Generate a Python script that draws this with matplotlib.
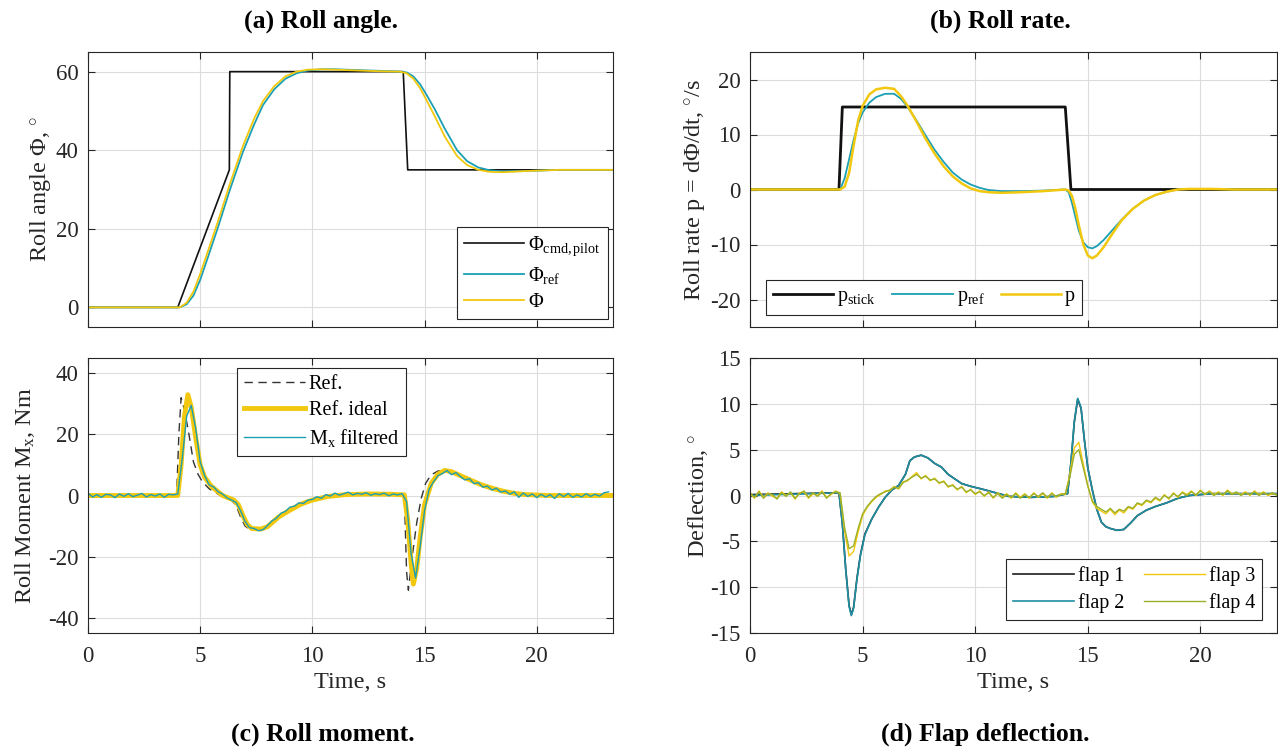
import numpy as np
import matplotlib

matplotlib.use("Agg")
import matplotlib.pyplot as plt

plt.rcParams["font.family"] = ["Liberation Serif", "DejaVu Serif"]
plt.rcParams["mathtext.fontset"] = "custom"
plt.rcParams["mathtext.rm"] = "Liberation Serif"
plt.rcParams["mathtext.it"] = "Liberation Serif:italic"
plt.rcParams["mathtext.bf"] = "Liberation Serif:bold"
plt.rcParams["axes.unicode_minus"] = False

BLACK = "#111111"
TEAL = "#1a9fb4"
YELLOW = "#f2c80f"
OLIVE = "#9bb02a"
TXT = "#262626"

# (a) roll angle, deg
phi_cmd_t = [0, 4.0, 6.3, 6.32, 14.05, 14.25, 23.4]
phi_cmd = [0, 0, 35, 60, 60, 35, 35]
phi_t = [0, 4.1, 4.4, 4.7, 5.0, 5.3, 5.8, 6.3, 6.9, 7.4, 7.8, 8.3, 8.8, 9.3, 9.8,
         10.4, 11, 12, 13, 13.9, 14.2, 14.5, 14.8, 15.1, 15.45, 15.9, 16.45, 16.9,
         17.4, 17.9, 18.5, 19.5, 21, 23.4]
phi_ref = [0, 0, 0.8, 3, 7, 12, 20.5, 29.5, 39.5, 46.5, 51.5, 55.5, 58.2, 59.6, 60.3,
           60.6, 60.6, 60.4, 60.2, 60, 59.8, 58.8, 56.8, 54, 50.5, 45.5, 40, 37.2,
           35.6, 34.9, 34.6, 34.7, 35, 35]
phi = [0, 0, 1.2, 4, 8.5, 13.5, 22, 31, 41, 48, 52.5, 56.3, 58.8, 60, 60.5,
       60.6, 60.5, 60.3, 60.1, 60, 59.6, 58.2, 55.8, 52.6, 48.7, 43.5, 38.5, 36.2,
       35, 34.5, 34.4, 34.7, 35, 35]

# (b) roll rate, deg/s
p_stick_t = [0, 3.95, 4.1, 14.0, 14.25, 23.4]
p_stick = [0, 0, 15, 15, 0, 0]
p_t = [0, 4.0, 4.2, 4.4, 4.6, 4.8, 5.0, 5.3, 5.6, 6.0, 6.4, 6.7, 7.0, 7.4, 7.8, 8.2,
       8.6, 9.0, 9.4, 9.8, 10.2, 10.6, 11.2, 12, 13, 14.0, 14.15, 14.3, 14.45, 14.6,
       14.8, 15.0, 15.2, 15.4, 15.7, 16.0, 16.5, 17.0, 17.5, 18.0, 18.5, 19.0, 19.5,
       20.5, 21.5, 23.4]
p_ref = [0, 0, 2, 5.5, 9, 12, 14, 15.8, 16.8, 17.4, 17.4, 16.5, 15, 12.5, 9.8, 7.2,
         5, 3.1, 1.8, 0.9, 0.3, -0.1, -0.3, -0.3, -0.2, 0, -0.5, -2.5, -5, -7.5,
         -9.6, -10.5, -10.7, -10.3, -9.2, -7.8, -5.5, -3.5, -2, -1, -0.4, 0, 0.1,
         0.1, 0, 0]
p_meas = [0, 0, 0.5, 3, 8, 12.5, 15.2, 17.3, 18.2, 18.5, 18.3, 17, 15.2, 12.3, 9.2, 6.5,
          4.2, 2.4, 1.1, 0.2, -0.3, -0.5, -0.6, -0.5, -0.3, 0, -0.2, -1.2, -3.5, -6.5,
          -10, -12, -12.5, -12, -10.5, -8.6, -5.6, -3.5, -2, -1, -0.4, 0, 0.1,
          0.1, 0, 0]

# (c) roll moment, Nm
ref_ideal_t = [0, 4.0, 4.15, 4.3, 4.45, 4.6, 4.8, 5.0, 5.2, 5.5, 6.0, 6.5, 6.7, 6.9,
               7.1, 7.3, 7.7, 8.0, 8.5, 9.0, 9.5, 10.0, 10.7, 11.5, 12.5, 13.5, 14.1,
               14.25, 14.4, 14.5, 14.65, 14.8, 15.0, 15.3, 15.6, 15.9, 16.2, 16.6, 17.0,
               17.5, 18.0, 18.5, 19.0, 19.5, 20.5, 23.4]
ref_ideal = [0, 0, 10, 26, 33, 29, 19, 10, 6, 3, 0, -1.5, -3, -6.5,
             -9.5, -10.8, -11, -10.2, -7, -4.8, -2.8, -1.5, -0.3, 0.3, 0.5, 0.4, 0.2,
             -8, -22, -29, -24, -14, -3, 4, 7, 8.2, 7.8, 6.5, 5.2,
             3.6, 2.4, 1.4, 0.7, 0.3, 0, 0]
ref_t = [0, 3.95, 4.05, 4.15, 4.3, 4.5, 4.7, 4.9, 5.1, 5.4, 5.9, 6.4, 6.6, 6.8, 7.0,
         7.2, 7.6, 8.0, 8.5, 9.0, 9.5, 10.0, 10.7, 11.5, 12.5, 13.5, 14.1, 14.2, 14.28,
         14.45, 14.65, 14.85, 15.05, 15.3, 15.6, 15.9, 16.2, 16.6, 17.0, 17.5, 18.0,
         18.5, 19.0, 19.5, 20.5, 23.4]
ref = [0, 0, 20, 32, 28, 20, 11, 7, 4.5, 2.2, 0, -1.6, -3.2, -7, -10,
       -11, -11, -9.8, -6.8, -4.6, -2.7, -1.4, -0.2, 0.3, 0.5, 0.4, 0, -25, -31,
       -20, -9, -1, 4, 6.8, 8, 8.2, 7.6, 6.4, 5, 3.5, 2.3,
       1.3, 0.6, 0.2, 0, 0]
# filtered measurement, sampled every 0.2 s from t = 0
mx_filt = [0.8, -0.5, 0.3, -0.6, 0.4, 0.2, -0.7, 0.5, -0.3, 0.6,
           -0.4, 0.1, 0.7, -0.5, 0.3, -0.2, 0.5, -0.6, 0.4, 0.2,
           0.5, 12, 26, 29.5, 22, 11, 6.5, 3.5, 2.8, 1.2,
           0.5, -0.8, -1.5, -2.3, -5, -8.5, -10.5, -10.8, -11.5, -11.2,
           -9.8, -8.3, -7.4, -5.8, -5.2, -3.8, -3.5, -2.4, -2.6, -1.5,
           -1.3, -0.4, -0.9, 0.3, -0.2, 0.8, 0.1, 0.6, 1.1, 0.2,
           0.7, 0.4, 0.9, 0.1, 0.6, 0.3, 0.8, -0.1, 0.5, 0.2,
           0.6, -2, -19, -27, -17, -5, 2, 4.5, 6.5, 7.2,
           8.2, 6.8, 7.5, 6.2, 5.1, 5.5, 3.9, 4.2, 2.7, 3.1,
           1.8, 2.4, 1.1, 1.5, 0.4, 1.2, -0.6, 0.8, -0.3, 0.5,
           -0.7, 0.4, -0.5, 0.3, -1.0, 0.6, -0.4, 0.7, -0.6, 0.2,
           -0.5, 0.6, -0.3, 0.4, -0.2, 0.9, 1.2]

# (d) flap deflection, deg
flap_t = [0, 3.95, 4.1, 4.25, 4.4, 4.5, 4.6, 4.75, 4.9, 5.1, 5.4, 5.7, 6.0, 6.3, 6.6,
          6.9, 7.1, 7.3, 7.6, 7.9, 8.2, 8.5, 8.8, 9.1, 9.4, 9.8, 10.3, 10.9, 11.5,
          12.5, 13.5, 14.1, 14.25, 14.4, 14.55, 14.7, 14.85, 15.0, 15.2, 15.4, 15.6,
          15.8, 16.0, 16.3, 16.6, 16.9, 17.2, 17.6, 18.0, 18.5, 19.0, 19.5, 20.5, 23.4]
flap1 = [0.1, 0.3, -3, -8, -12, -13, -12.2, -9, -6.5, -4.2, -2.6, -1.3, -0.2, 0.6, 1.1,
         2.3, 3.8, 4.2, 4.4, 4.1, 3.5, 3.1, 2.3, 1.8, 1.3, 1.0, 0.7, 0.3, -0.1,
         -0.2, -0.1, 0.2, 3.5, 8, 10.5, 9.5, 6, 3, 0.6, -1.5, -2.9,
         -3.4, -3.6, -3.8, -3.7, -3.0, -2.2, -1.6, -1.2, -0.8, -0.3, 0, 0.2, 0.2]
flap2 = [0.0, 0.3, -3.1, -8.1, -12.1, -13.1, -12.3, -9.1, -6.6, -4.3, -2.6, -1.3, -0.2, 0.6, 1.1,
         2.3, 3.8, 4.2, 4.4, 4.1, 3.5, 3.1, 2.3, 1.8, 1.3, 1.0, 0.7, 0.3, -0.1,
         -0.2, -0.1, 0.2, 3.6, 8.1, 10.6, 9.6, 6, 3, 0.6, -1.5, -2.9,
         -3.4, -3.6, -3.8, -3.7, -3.0, -2.2, -1.6, -1.2, -0.8, -0.3, 0, 0.2, 0.2]
# flaps 3 and 4, sampled every 0.2 s from t = 0
flap3 = [0.2, -0.3, 0.5, -0.2, 0.3, -0.1, -0.3, 0.4, 0.0, 0.3,
         -0.4, 0.3, 0.4, -0.3, 0.2, 0.0, 0.5, -0.2, 0.1, 0.5,
         0.2, -3.9, -6.6, -6.1, -4.0, -2.2, -1.3, -0.7, -0.2, 0.1,
         0.5, 0.5, 1.0, 0.7, 1.5, 1.6, 2.1, 2.5, 1.8, 2.2,
         1.6, 1.9, 1.3, 1.6, 0.9, 1.2, 0.6, 1.0, 0.3, 0.7,
         0.1, 0.5, -0.1, 0.4, -0.3, 0.3, -0.2, 0.2, -0.3, 0.3,
         -0.2, 0.2, -0.3, 0.3, -0.2, 0.2, -0.3, 0.3, -0.2, 0.2,
         0.1, 2.3, 5.2, 5.8, 3.4, 1.1, -0.7, -1.4, -1.7, -2.0,
         -1.5, -2.1, -1.6, -1.9, -1.3, -1.5, -0.9, -1.1, -0.6, -0.8,
         -0.3, -0.6, 0.1, -0.4, 0.3, -0.2, 0.4, 0.1, 0.5, 0.0,
         0.6, 0.1, 0.5, 0.1, 0.4, 0.0, 0.6, 0.2, 0.3, 0.1,
         0.4, 0.0, 0.5, 0.1, 0.4, 0.0, 0.2, 0.1]
flap4 = [0.3, -0.2, 0.4, -0.3, 0.2, 0.1, -0.4, 0.3, -0.1, 0.4,
         -0.3, 0.2, 0.5, -0.2, 0.3, -0.1, 0.4, -0.3, 0.2, 0.4,
         0.3, -3.5, -5.8, -5.5, -3.6, -2.0, -1.2, -0.6, -0.1, 0.2,
         0.4, 0.6, 0.9, 0.8, 1.4, 1.7, 2.0, 2.3, 1.9, 2.1,
         1.7, 1.8, 1.4, 1.5, 1.0, 1.1, 0.7, 0.9, 0.4, 0.6,
         0.2, 0.4, 0.0, 0.3, -0.2, 0.2, -0.3, 0.1, -0.2, 0.2,
         -0.3, 0.1, -0.2, 0.2, -0.1, 0.3, -0.2, 0.2, -0.1, 0.1,
         0.2, 2.0, 4.5, 5.0, 3.0, 1.0, -0.6, -1.2, -1.5, -1.8,
         -1.4, -1.9, -1.5, -1.7, -1.2, -1.4, -0.8, -1.0, -0.5, -0.7,
         -0.2, -0.5, 0.0, -0.3, 0.2, -0.1, 0.3, 0.0, 0.4, 0.1,
         0.5, 0.2, 0.4, 0.0, 0.3, 0.1, 0.5, 0.1, 0.4, 0.0,
         0.3, 0.1, 0.4, 0.0, 0.3, 0.1, 0.3, 0.0]

DT = 0.2
T_END = 23.4
TICK_FS = 16.5
LABEL_FS = 17.5


def sample_times(vals):
    return np.arange(len(vals)) * DT


def style_axes(ax, ylim, yticks, show_x):
    ax.set_xlim(0, T_END)
    ax.set_ylim(*ylim)
    ax.set_yticks(yticks)
    ax.set_xticks([0, 5, 10, 15, 20])
    if not show_x:
        ax.set_xticklabels([])
    ax.grid(True, color="#dcdcdc", linewidth=0.8)
    ax.set_axisbelow(True)
    ax.tick_params(direction="in", top=True, right=True, length=5, width=0.8,
                   labelsize=TICK_FS, colors=TXT)
    ax.tick_params(axis="y", pad=7)
    ax.tick_params(axis="x", pad=9)
    for s in ax.spines.values():
        s.set_color(TXT)
        s.set_linewidth(0.8)


def legend(ax, **kw):
    leg = ax.legend(fontsize=14.5, fancybox=False, framealpha=1, edgecolor=TXT,
                    handlelength=3.0, borderaxespad=0, borderpad=0.35,
                    handletextpad=0.2, labelspacing=0.35, **kw)
    leg.get_frame().set_linewidth(0.8)
    return leg


fig = plt.figure(figsize=(12.78, 7.49), dpi=100)
W, H = 1278, 749


def add_ax(x0, x1, y0, y1):
    return fig.add_axes([x0 / W, 1 - y1 / H, (x1 - x0) / W, (y1 - y0) / H])


ax_a = add_ax(88, 613, 52, 327)
ax_b = add_ax(750, 1277, 52, 327)
ax_c = add_ax(88, 613, 358, 633)
ax_d = add_ax(750, 1277, 358, 633)

# (a)
ax_a.plot(phi_cmd_t, phi_cmd, color=BLACK, lw=1.2, label=r"$\Phi_{\mathrm{cmd,pilot}}$")
ax_a.plot(phi_t, phi_ref, color=TEAL, lw=1.3, label=r"$\Phi_{\mathrm{ref}}$")
ax_a.plot(phi_t, phi, color=YELLOW, lw=1.3, label=r"$\Phi$")
style_axes(ax_a, (-5, 65), [0, 20, 40, 60], False)
ax_a.set_ylabel(r"Roll angle $\Phi$, $^{\circ}$", fontsize=LABEL_FS, color=TXT, labelpad=2)
legend(ax_a, loc="lower right", bbox_to_anchor=(0.99, 0.029))

# (b)
ax_b.plot(p_stick_t, p_stick, color=BLACK, lw=2.0, label=r"p$_{\mathrm{stick}}$")
ax_b.plot(p_t, p_ref, color=TEAL, lw=1.3, label=r"p$_{\mathrm{ref}}$")
ax_b.plot(p_t, p_meas, color=YELLOW, lw=1.8, label="p")
style_axes(ax_b, (-25, 25), [-20, -10, 0, 10, 20], False)
ax_b.set_ylabel(r"Roll rate p = d$\Phi$/dt, $^{\circ}$/s", fontsize=LABEL_FS, color=TXT,
                labelpad=2)
legend(ax_b, loc="lower left", bbox_to_anchor=(0.03, 0.044), ncol=3, columnspacing=0.8)

# (c)
ax_c.plot(ref_t, ref, color="#333333", lw=1.0, dashes=(6, 4), label="Ref.")
ax_c.plot(ref_ideal_t, ref_ideal, color=YELLOW, lw=3.5, label="Ref. ideal")
ax_c.plot(sample_times(mx_filt), mx_filt, color=TEAL, lw=1.0, label=r"M$_{\mathrm{x}}$ filtered")
style_axes(ax_c, (-45, 45), [-40, -20, 0, 20, 40], True)
ax_c.set_ylabel(r"Roll Moment M$_{\mathrm{x}}$, Nm", fontsize=LABEL_FS, color=TXT, labelpad=8)
ax_c.set_xlabel("Time, s", fontsize=LABEL_FS, color=TXT, labelpad=4)
legend(ax_c, loc="upper left", bbox_to_anchor=(0.284, 0.964))

# (d)
ax_d.plot(flap_t, flap1, color="#1c1c1c", lw=1.2, label="flap 1")
ax_d.plot(flap_t, flap2, color="#1f8fa2", lw=1.2, label="flap 2")
ax_d.plot(sample_times(flap3), flap3, color=YELLOW, lw=1.0, label="flap 3")
ax_d.plot(sample_times(flap4), flap4, color=OLIVE, lw=1.0, label="flap 4")
style_axes(ax_d, (-15, 15), [-15, -10, -5, 0, 5, 10, 15], True)
ax_d.set_ylabel(r"Deflection, $^{\circ}$", fontsize=LABEL_FS, color=TXT, labelpad=0)
ax_d.set_xlabel("Time, s", fontsize=LABEL_FS, color=TXT, labelpad=4)
legend(ax_d, loc="lower right", bbox_to_anchor=(0.972, 0.047), ncol=2, columnspacing=1.0)

# sub-captions
cap = dict(fontsize=18.5, fontweight="bold", ha="center", va="center", color="black")
fig.text(321 / W, 1 - 21 / H, "(a) Roll angle.", **cap)
fig.text(1000 / W, 1 - 21 / H, "(b) Roll rate.", **cap)
fig.text(323 / W, 1 - 734 / H, "(c) Roll moment.", **cap)
fig.text(985 / W, 1 - 734 / H, "(d) Flap deflection.", **cap)

fig.savefig("out.png", dpi=100)
